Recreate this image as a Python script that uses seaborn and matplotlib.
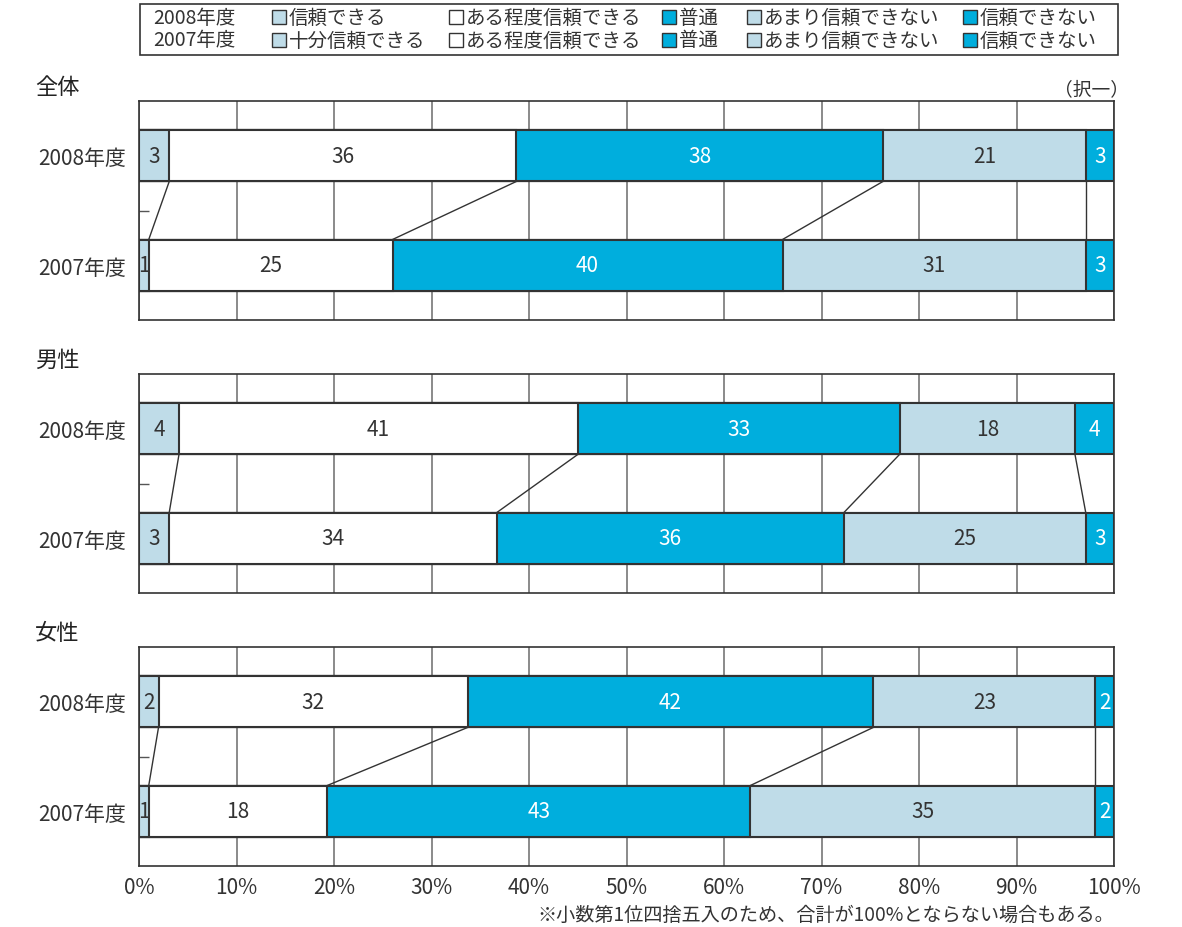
import numpy as np
import pandas as pd
import matplotlib
matplotlib.use('Agg')
import matplotlib.pyplot as plt
from matplotlib.patches import Rectangle
import seaborn as sns

sns.set_theme(style='white')
plt.rcParams['font.family'] = ['Noto Sans CJK JP', 'DejaVu Sans']

# データ(%、画像から読み取り)
years = ['2008年度', '2007年度']
groups = ['全体', '男性', '女性']
cats_2008 = ['信頼できる', 'ある程度信頼できる', '普通', 'あまり信頼できない', '信頼できない']
cats_2007 = ['十分信頼できる', 'ある程度信頼できる', '普通', 'あまり信頼できない', '信頼できない']

zentai_2008 = [3.1, 35.6, 37.6, 20.8, 2.9]
zentai_2007 = [1.0, 25.0, 40.0, 31.1, 2.9]
dansei_2008 = [4.1, 40.9, 33.0, 18.0, 4.0]
dansei_2007 = [3.1, 33.6, 35.6, 24.8, 2.9]
josei_2008 = [2.0, 31.7, 41.6, 22.8, 1.9]
josei_2007 = [1.0, 18.3, 43.4, 35.4, 1.9]

data = {
    '全体': (zentai_2008, zentai_2007),
    '男性': (dansei_2008, dansei_2007),
    '女性': (josei_2008, josei_2007),
}

LIGHT = '#bfdce8'
CYAN = '#00aedd'
colors = [LIGHT, 'white', CYAN, LIGHT, CYAN]
text_colors = ['#333333', '#333333', 'white', '#333333', 'white']
EDGE = '#333333'
TXT = '#333333'

fig = plt.figure(figsize=(11.82, 9.28), dpi=100)

W, H = 1182, 928
ax_left = 139 / W
ax_width = 975 / W
panel_tops = [102, 375, 648]
panel_h = 219

for gi, g in enumerate(groups):
    top = panel_tops[gi]
    ax = fig.add_axes([ax_left, 1 - (top + panel_h) / H, ax_width, panel_h / H])
    v08, v07 = data[g]
    df = pd.DataFrame({'年度': years * 5,
                       'cat': np.repeat(range(5), 2),
                       'val': np.ravel(np.column_stack([v08, v07]))})
    df['cum'] = df.groupby('年度', sort=False)['val'].cumsum()

    # 累積値を大きい順に重ねて積み上げ棒にする
    for k in range(4, -1, -1):
        sub = df[df['cat'] == k]
        sns.barplot(data=sub, x='cum', y='年度', order=years, orient='h',
                    color=colors[k], edgecolor=EDGE, linewidth=1.5,
                    width=0.47, saturation=1, ax=ax, zorder=3)

    # 数値ラベル
    for yi, vals in enumerate([v08, v07]):
        left = 0
        for k, v in enumerate(vals):
            ax.text(left + v / 2, yi, f'{round(v):d}', ha='center', va='center',
                    fontsize=15, color=text_colors[k], zorder=5)
            left += v

    # 2008年度と2007年度の区切りを結ぶ線
    c08 = np.cumsum(v08)[:4]
    c07 = np.cumsum(v07)[:4]
    for a, b in zip(c08, c07):
        ax.plot([a, b], [0 + 0.235, 1 - 0.235], color=EDGE, lw=1, zorder=4)

    ax.set_xlim(0, 100)
    ax.set_ylim(1.5, -0.5)
    ax.set_xticks(range(0, 101, 10))
    ax.xaxis.grid(True, color='#777777', lw=1.2, zorder=0)
    ax.set_axisbelow(True)
    ax.set_xlabel('')
    ax.set_ylabel('')
    ax.set_yticks([0, 1])
    ax.set_yticklabels(years, fontsize=15, color=TXT)
    ax.set_yticks([0.5], minor=True)
    ax.tick_params(axis='y', which='major', length=0, pad=9)
    ax.tick_params(axis='y', which='minor', left=True, length=7, direction='in',
                   width=1, color='#555555')
    ax.tick_params(axis='x', length=0)
    for s in ax.spines.values():
        s.set_color(EDGE)
        s.set_linewidth(1.2)
    if gi == 2:
        ax.set_xticklabels([f'{t}%' for t in range(0, 101, 10)], fontsize=15, color=TXT)
        ax.tick_params(axis='x', pad=7)
    else:
        ax.set_xticklabels([])

    fig.text(35 / W, 1 - (top - 15) / H, g, fontsize=16, color='#222222',
             ha='left', va='center')

fig.text(1129 / W, 1 - 90 / H, '（択一）', fontsize=13.5, color=TXT, ha='right', va='center')
fig.text(1114 / W, 1 - 915 / H, '※小数第1位四捨五入のため、合計が100%とならない場合もある。',
         fontsize=13.8, color=TXT, ha='right', va='center')

# 凡例(2段)
fig.patches.append(Rectangle((140 / W, 1 - 56 / H), 978 / W, 51 / H, transform=fig.transFigure,
                             facecolor='white', edgecolor=EDGE, lw=1.2))
sq_x = [272, 449, 662, 747, 963]
for ri, (yr, cats) in enumerate([('2008年度', cats_2008), ('2007年度', cats_2007)]):
    yc = [18, 41][ri]
    fig.text(153 / W, 1 - yc / H, yr, fontsize=14, color=TXT, ha='left', va='center')
    for k, lab in enumerate(cats):
        fig.patches.append(Rectangle((sq_x[k] / W, 1 - (yc + 7) / H), 14 / W, 14 / H,
                                     transform=fig.transFigure, facecolor=colors[k],
                                     edgecolor=EDGE, lw=1))
        fig.text((sq_x[k] + 17) / W, 1 - yc / H, lab, fontsize=14, color=TXT,
                 ha='left', va='center')

fig.savefig('out.png', dpi=100)
